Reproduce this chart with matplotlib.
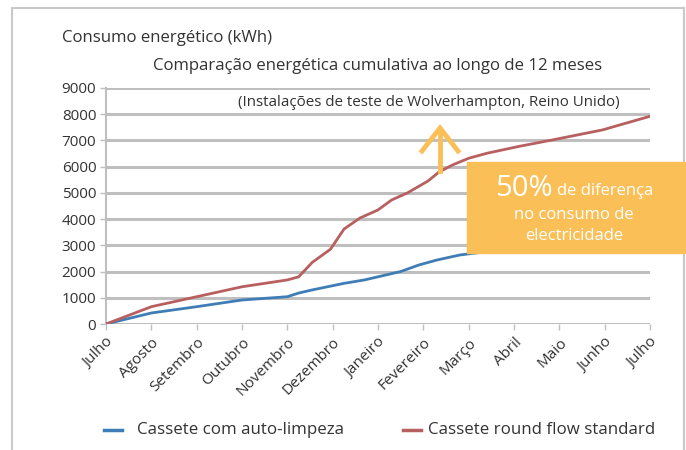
import numpy as np
import matplotlib
matplotlib.use("Agg")
import matplotlib.pyplot as plt
from matplotlib.lines import Line2D
from matplotlib.patches import Rectangle

plt.rcParams["font.family"] = ["Open Sans", "DejaVu Sans"]

months = ["Julho", "Agosto", "Setembro", "Outubro", "Novembro", "Dezembro",
          "Janeiro", "Fevereiro", "Março", "Abril", "Maio", "Junho", "Julho"]

# position along the year (in months since July) and cumulative kWh
std_t = [0, 1, 2, 3, 4, 4.25, 4.55, 4.95, 5.25, 5.6, 6.0, 6.3, 6.65, 7.1,
         7.35, 7.65, 8.0, 8.4, 9.1, 9.85, 10.6, 10.95, 11.35, 12]
std_kwh = [0, 660, 1040, 1420, 1680, 1800, 2350, 2850, 3620, 4040, 4350, 4730,
           5000, 5450, 5800, 6070, 6320, 6510, 6770, 7020, 7280, 7400, 7600, 7920]

auto_t = [0, 1, 2, 3, 4, 4.25, 4.55, 5.25, 5.7, 6.0, 6.5, 6.9, 7.3, 7.8,
          8.4, 9, 10, 11, 12]
auto_kwh = [0, 420, 660, 915, 1040, 1180, 1300, 1550, 1680, 1800, 2000, 2250,
            2440, 2630, 2760, 2900, 3200, 3550, 3950]

blue = "#3f7db6"
red = "#b85f60"
orange = "#fbbf57"
grid_c = "#bfbfbf"
txt_c = "#333333"

fig = plt.figure(figsize=(6.86, 4.5), dpi=100)
W, H = 686, 450

# outer frame
fig.add_artist(Rectangle((12 / W, -0.05), 672 / W, 1.05 - 8 / H,
                         transform=fig.transFigure, fill=False,
                         edgecolor="#c9c9c9", lw=1.5))

ax = fig.add_axes([106 / W, 1 - 324 / H, 544 / W, 236 / H])
ax.set_xlim(0, 12)
ax.set_ylim(0, 9000)
ax.set_yticks(np.arange(0, 9001, 1000))
ax.set_xticks(np.arange(13))
ax.set_xticklabels(months, rotation=45, ha="right", rotation_mode="anchor")
ax.yaxis.grid(True, color=grid_c, lw=2.2)
ax.set_axisbelow(True)
for s in ["top", "right", "bottom"]:
    ax.spines[s].set_visible(False)
ax.spines["left"].set_color(grid_c)
ax.spines["left"].set_linewidth(1.5)
ax.tick_params(axis="both", colors=grid_c, labelcolor=txt_c, labelsize=11,
               length=4, width=1)
ax.tick_params(axis="y", pad=3)
ax.tick_params(axis="x", pad=4)
ax.patch.set_alpha(0)

ax.plot(auto_t, auto_kwh, color=blue, lw=2, zorder=3)
ax.plot(std_t, std_kwh, color=red, lw=2, zorder=3)

ax.text(0.594, 0.94, "(Instalações de teste de Wolverhampton, Reino Unido)",
        transform=ax.transAxes, ha="center", va="center", fontsize=10.9,
        color=txt_c)

fig.text(62 / W, 1 - 38 / H, "Consumo energético (kWh)", ha="left",
         va="center", fontsize=12.1, color=txt_c)
fig.text(378 / W, 1 - 66 / H,
         "Comparação energética cumulativa ao longo de 12 meses",
         ha="center", va="center", fontsize=12.1, color=txt_c)

# orange call-out box
fig.add_artist(Rectangle((467 / W, 1 - 253 / H), (W - 467) / W, 91 / H,
                         transform=fig.transFigure, color=orange, zorder=5))
fig.text(553 / W, 1 - 188 / H, "50%", ha="right", va="center",
         fontsize=21, color="white", zorder=6)
fig.text(557 / W, 1 - 191 / H, "de diferença", ha="left", va="center",
         fontsize=12, color="white", zorder=6)
fig.text(574 / W, 1 - 215 / H, "no consumo de", ha="center", va="center",
         fontsize=12, color="white", zorder=6)
fig.text(574 / W, 1 - 236 / H, "electricidade", ha="center", va="center",
         fontsize=12, color="white", zorder=6)

# arrow
fig.add_artist(Line2D([440 / W, 440 / W], [1 - 171 / H, 1 - 129 / H],
                      transform=fig.transFigure, color=orange, lw=3.5))
fig.add_artist(Line2D([422 / W, 440 / W, 458 / W],
                      [1 - 151 / H, 1 - 128 / H, 1 - 151 / H],
                      transform=fig.transFigure, color=orange, lw=3.5,
                      solid_joinstyle="miter"))

# legend
fig.add_artist(Line2D([104 / W, 122 / W], [1 - 430 / H] * 2,
                      transform=fig.transFigure, color=blue, lw=2.5))
fig.text(137 / W, 1 - 430 / H, "Cassete com auto-limpeza", ha="left",
         va="center", fontsize=12.2, color=txt_c)
fig.add_artist(Line2D([403 / W, 421 / W], [1 - 430 / H] * 2,
                      transform=fig.transFigure, color=red, lw=2.5))
fig.text(428 / W, 1 - 430 / H, "Cassete round flow standard", ha="left",
         va="center", fontsize=12.2, color=txt_c)

fig.savefig("out.png", dpi=100)
